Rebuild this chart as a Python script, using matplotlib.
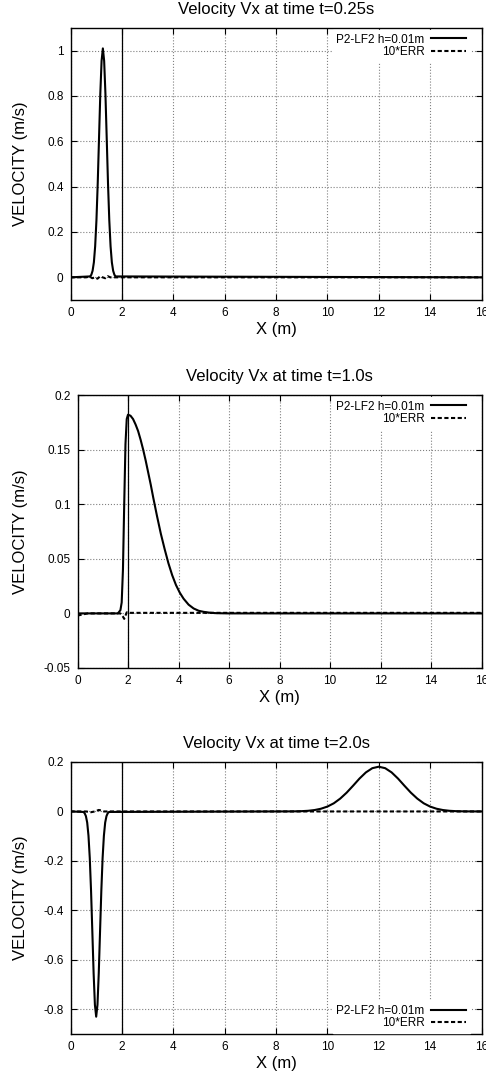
import matplotlib
matplotlib.use("Agg")
import matplotlib.pyplot as plt

plt.rcParams["font.family"] = ["Liberation Sans", "DejaVu Sans"]

# ---------------------------------------------------------------------------
# Data (x in m, velocity in m/s)
# ---------------------------------------------------------------------------
titles = ["Velocity Vx at time t=0.25s", "Velocity Vx at time t=1.0s", "Velocity Vx at time t=2.0s"]
label_sol = "P2-LF2 h=0.01m"
label_err = "10*ERR"

# t = 0.25 s : narrow pulse near x=1.26
x_t025 = [0.0, 0.76, 0.81, 0.86, 0.91, 0.96, 1.01, 1.06, 1.11, 1.16, 1.21, 1.26,
          1.31, 1.36, 1.41, 1.46, 1.51, 1.56, 1.61, 1.66, 1.71, 1.76, 16.0]
v_t025 = [0.0, 0.004, 0.011, 0.029, 0.066, 0.137, 0.252, 0.415, 0.613, 0.809, 0.955, 1.01,
          0.955, 0.809, 0.613, 0.415, 0.252, 0.137, 0.066, 0.029, 0.011, 0.004, 0.0]
xe_t025 = [0.0, 0.6, 0.75, 0.85, 0.95, 1.05, 1.15, 1.25, 1.35, 1.45, 1.55, 16.0]
e_t025 = [0.0, 0.0, 0.003, -0.004, 0.0, -0.006, 0.004, 0.0, -0.004, 0.005, 0.0, 0.0]

# t = 1.0 s : steep front at x=2 followed by a slow tail
x_t10 = [0.0, 1.6, 1.7, 1.75, 1.8, 1.85, 1.9, 1.95, 2.0, 2.1, 2.2, 2.3, 2.4, 2.5, 2.6, 2.7,
         2.8, 2.9, 3.0, 3.15, 3.3, 3.45, 3.6, 3.75, 3.9, 4.05, 4.2, 4.4, 4.6, 4.8, 5.0,
         5.25, 5.5, 6.0, 16.0]
v_t10 = [0.0, 0.0, 0.003, 0.01, 0.04, 0.10, 0.155, 0.178, 0.182, 0.181, 0.178, 0.173, 0.167,
         0.159, 0.150, 0.140, 0.129, 0.118, 0.106, 0.089, 0.073, 0.059, 0.046, 0.035, 0.026,
         0.019, 0.0135, 0.008, 0.0045, 0.0024, 0.0014, 0.0006, 0.0002, 0.0, 0.0]
xe_t10 = [0.0, 0.2, 0.4, 1.7, 1.8, 1.85, 1.9, 1.95, 2.0, 16.0]
e_t10 = [-0.002, -0.001, 0.0, 0.0, -0.003, -0.005, -0.002, 0.001, 0.0005, 0.0005]

# t = 2.0 s : reflected negative pulse near x=1 and transmitted pulse near x=12
x_t20 = [0.0, 0.5, 0.55, 0.6, 0.65, 0.7, 0.75, 0.8, 0.85, 0.9, 0.95, 1.0,
         1.05, 1.1, 1.15, 1.2, 1.25, 1.3, 1.35, 1.4, 1.45, 1.5,
         8.5, 8.75, 9.0, 9.25, 9.5, 9.75, 10.0, 10.25, 10.5, 10.75, 11.0, 11.25,
         11.5, 11.75, 12.0, 12.25, 12.5, 12.75, 13.0, 13.25, 13.5, 13.75, 14.0, 14.25,
         14.5, 14.75, 15.0, 15.25, 15.5, 16.0]
v_t20 = [0.0, -0.002, -0.007, -0.019, -0.045, -0.098, -0.188, -0.321, -0.486, -0.654, -0.782, -0.83,
         -0.782, -0.654, -0.486, -0.321, -0.188, -0.098, -0.045, -0.019, -0.007, -0.002,
         0.0002, 0.0005, 0.0012, 0.0027, 0.0057, 0.011, 0.0197, 0.033, 0.052, 0.076, 0.104,
         0.133, 0.158, 0.175, 0.181, 0.175, 0.158, 0.133, 0.104, 0.076, 0.052, 0.033, 0.0197,
         0.011, 0.0057, 0.0027, 0.0012, 0.0005, 0.0002, 0.0]
xe_t20 = [0.0, 0.6, 0.8, 0.95, 1.1, 1.2, 1.3, 16.0]
e_t20 = [0.0, 0.0, -0.003, 0.0, 0.006, 0.004, 0.0, 0.0]

ylims = [(-0.1, 1.1), (-0.05, 0.2), (-0.9, 0.2)]
yticks = [[0, 0.2, 0.4, 0.6, 0.8, 1], [-0.05, 0, 0.05, 0.1, 0.15, 0.2], [-0.8, -0.6, -0.4, -0.2, 0, 0.2]]
yticklabels = [["0", "0.2", "0.4", "0.6", "0.8", "1"],
               ["-0.05", "0", "0.05", "0.1", "0.15", "0.2"],
               ["-0.8", "-0.6", "-0.4", "-0.2", "0", "0.2"]]
legend_locs = ["upper right", "upper right", "lower right"]

series = [(x_t025, v_t025, xe_t025, e_t025), (x_t10, v_t10, xe_t10, e_t10), (x_t20, v_t20, xe_t20, e_t20)]

# axes boxes in pixels: left, right, top, bottom
boxes = [(70.5, 481.5, 28, 300), (77.5, 481.5, 395, 668), (70.5, 481.5, 762, 1034)]

W, H = 486, 1076
fig = plt.figure(figsize=(W / 100, H / 100), dpi=100)

for i, ((x, v, xe, e), (l, r, t, b)) in enumerate(zip(series, boxes)):
    ax = fig.add_axes([l / W, 1 - b / H, (r - l) / W, (b - t) / H])
    ax.plot(x, v, color="black", lw=1.5, label=label_sol, zorder=4)
    ax.plot(xe, e, color="black", lw=1.5, ls=(0, (2, 1.2)), label=label_err, zorder=4)
    ax.axvline(2, color="black", lw=0.9, zorder=3)
    ax.set_xlim(0, 16)
    ax.set_ylim(*ylims[i])
    ax.set_xticks(range(0, 17, 2))
    ax.set_yticks(yticks[i])
    ax.set_yticklabels(yticklabels[i])
    ax.grid(True, color="#808080", ls=":", lw=0.8)
    ax.tick_params(direction="in", top=True, right=True, length=4, width=0.8, labelsize=8.5, pad=5)
    for s in ax.spines.values():
        s.set_linewidth(1.0)
    ax.set_title(titles[i], fontsize=12, pad=10)
    ax.set_xlabel("X (m)", fontsize=12, labelpad=2.5)
    fig.text(20 / W, 1 - (t + b) / 2 / H, "VELOCITY (m/s)", rotation=90, fontsize=12,
             ha="center", va="center")
    if legend_locs[i] == "upper right":
        anchor = (1 - 12 / (r - l), 1 - 2 / (b - t))
    else:
        anchor = (1 - 12 / (r - l), 1 / (b - t))
    leg = ax.legend(loc=legend_locs[i], bbox_to_anchor=anchor, fontsize=8.5, markerfirst=False,
                    handlelength=3.0, labelspacing=0.05, borderpad=0.3, borderaxespad=0.0,
                    frameon=True, fancybox=False, edgecolor="white", framealpha=1.0,
                    handletextpad=0.5)

fig.savefig("out.png", dpi=100)
